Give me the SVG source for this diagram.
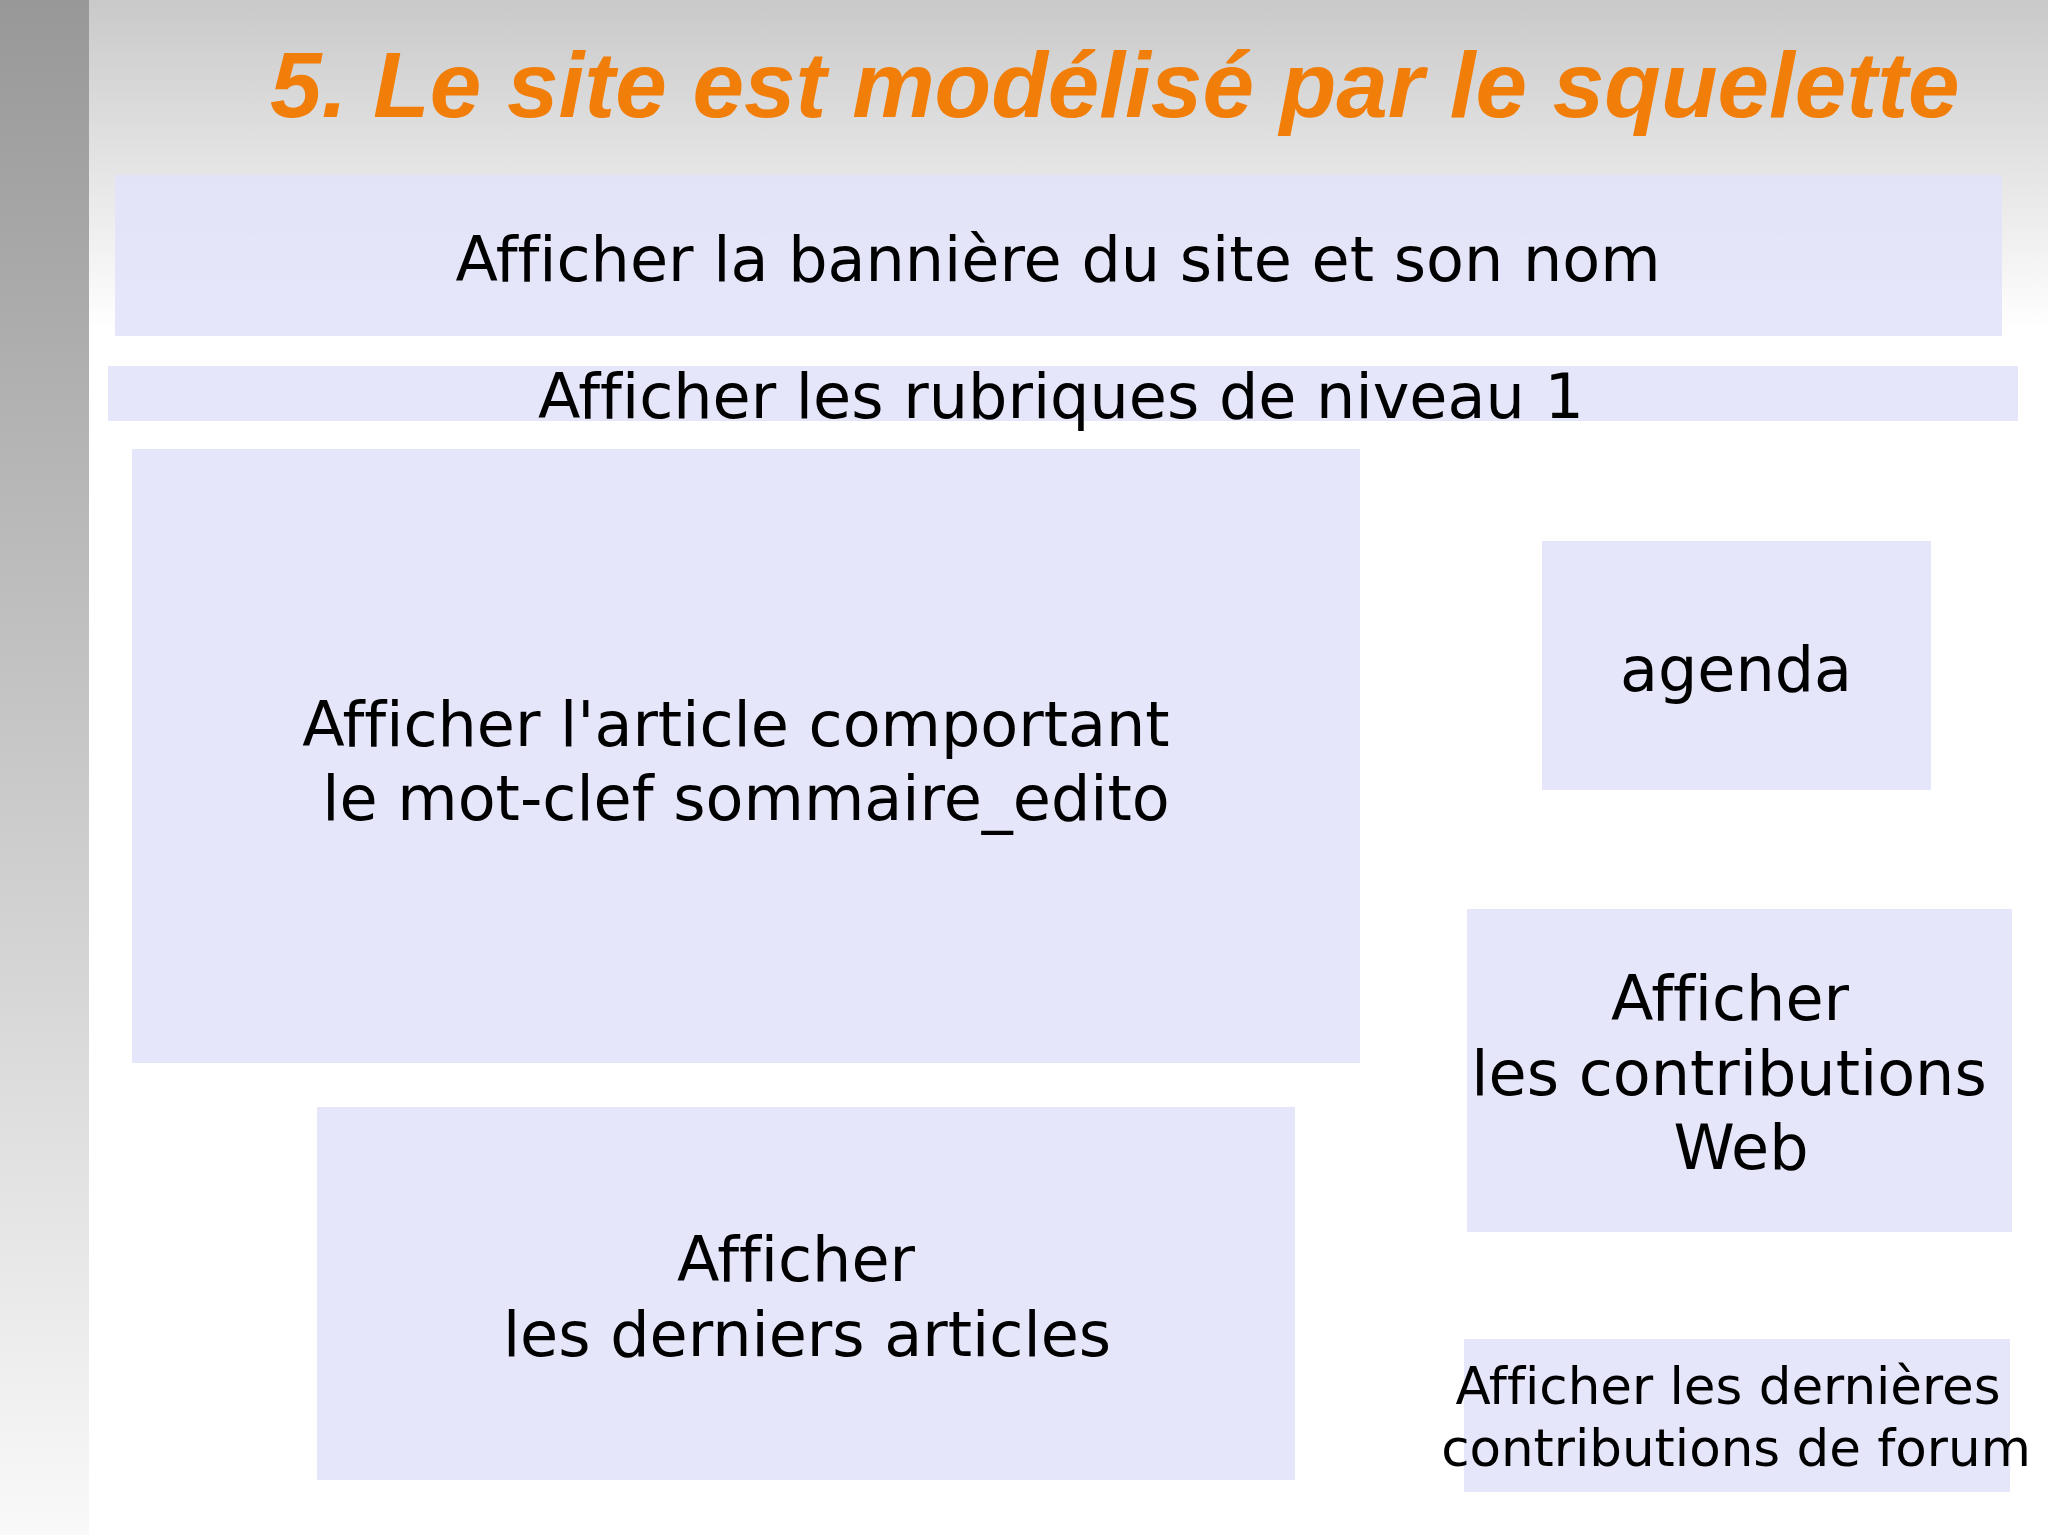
<svg xmlns="http://www.w3.org/2000/svg" width="2048" height="1535" viewBox="0 0 2048 1535">
  <defs>
    <linearGradient id="topGrad" x1="0" y1="0" x2="0" y2="1">
      <stop offset="0" stop-color="#c9c9c9"/>
      <stop offset="1" stop-color="#ffffff"/>
    </linearGradient>
    <linearGradient id="barGrad" x1="0" y1="0" x2="0" y2="1">
      <stop offset="0" stop-color="#989898"/>
      <stop offset="1" stop-color="#f9f9f9"/>
    </linearGradient>
  </defs>
  <style>
    .box { fill: #e2e2fb; fill-opacity: 0.88; }
    .lbl { font-family: "DejaVu Sans", Verdana, sans-serif; font-size: 62px; fill: #000000; text-anchor: middle; font-variant-ligatures: none; }
    .small { font-size: 51.5px; }
    .title { font-family: "Liberation Sans", Arial, sans-serif; font-weight: bold; font-style: italic; font-size: 92.7px; fill: #f27e0a; }
  </style>

  <rect x="0" y="0" width="2048" height="1535" fill="#ffffff"/>
  <rect x="0" y="0" width="2048" height="330" fill="url(#topGrad)"/>
  <rect x="0" y="0" width="89" height="1535" fill="url(#barGrad)"/>

  <text class="title" x="270" y="117">5. Le site est modélisé par le squelette</text>

  <g id="connectors"></g>

  <g id="banniere">
    <rect class="box" x="115" y="175" width="1887" height="161"/>
    <text class="lbl" x="1058" y="281">Afficher la bannière du site et son nom</text>
  </g>

  <g id="rubriques">
    <rect class="box" x="108" y="366" width="1910" height="55"/>
    <text class="lbl" x="1061" y="418">Afficher les rubriques de niveau 1</text>
  </g>

  <g id="article">
    <rect class="box" x="132" y="449" width="1228" height="614"/>
    <text class="lbl" x="736" y="746">Afficher l'article comportant</text>
    <text class="lbl" x="746" y="820">le mot-clef sommaire_edito</text>
  </g>

  <g id="agenda">
    <rect class="box" x="1542" y="541" width="389" height="249"/>
    <text class="lbl" x="1736" y="691">agenda</text>
  </g>

  <g id="contributions-web">
    <rect class="box" x="1467" y="909" width="545" height="323"/>
    <text class="lbl" x="1730" y="1020">Afficher</text>
    <text class="lbl" x="1729" y="1095">les contributions</text>
    <text class="lbl" x="1741" y="1169">Web</text>
  </g>

  <g id="derniers-articles">
    <rect class="box" x="317" y="1107" width="978" height="373"/>
    <text class="lbl" x="796" y="1281">Afficher</text>
    <text class="lbl" x="807" y="1356">les derniers articles</text>
  </g>

  <g id="forum">
    <rect class="box" x="1464" y="1339" width="546" height="153"/>
    <text class="lbl small" x="1728" y="1404">Afficher les dernières</text>
    <text class="lbl small" x="1736" y="1466">contributions de forum</text>
  </g>
</svg>
